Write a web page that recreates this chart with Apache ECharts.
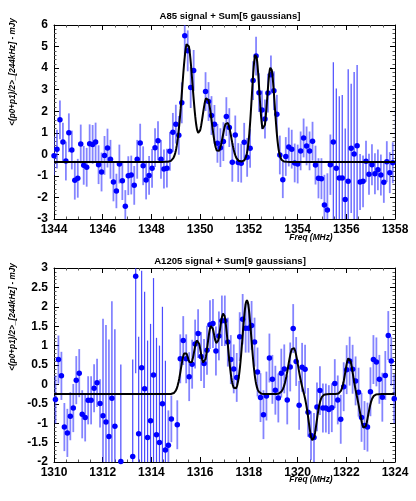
<!DOCTYPE html>
<html>
  <head>
    <meta charset="utf-8" />
    <script src="https://cdn.jsdelivr.net/npm/echarts@6/dist/echarts.min.js"></script>
    <style>
      html, body { margin: 0; padding: 0; background: #fff; }
      #main { width: 416px; height: 501px; }
    </style>
  </head>
  <body>
    <div id="main"></div>

    <script type="text/javascript">
      // ---- A85 spectrum: channels from 1344 MHz, 122 kHz apart (null = flagged channel)
      var a85Start = 1344.0;
      var a85Step = 0.122;
      var a85Flux = [
        -0.06, 0.24, 1.6, 0.57, -0.31, 1.0, 0.2, -1.2, -1.11, 0.48,
        -0.51, -0.6, 0.49, 0.46, 0.57, -0.48, -0.82, -0.05, 0.29, -0.23,
        -1.28, -1.7, -0.45, -1.22, -2.41, -0.99, -0.96, -1.44, -0.23, 0.52,
        -0.53, -1.19, -0.98, -0.65, 0.31, 0.63, -0.23, -0.68, -0.64, 0.14,
        1.02, 1.4, 0.88, 2.39, 5.5, 4.8, 3.1, 3.89, null, null,
        null, 2.91, 2.45, 1.8, 1.39, 0.51, 0.31, 0.59, 1.75, 1.24,
        -0.37, 0.9, -0.38, -0.41, 0.56, -0.14, 0.28, 3.42, 4.56, 2.86,
        2.06, 1.64, 2.84, 3.69, 2.95, 1.86, -0.03, -1.18, -0.1, 0.34,
        0.24, -0.4, -0.45, 0.16, 0.76, 0.39, 0.16, 0.61, -0.5, -1.11,
        -1.13, -2.35, -2.58, -0.48, 0.57, -0.65, -1.1, -1.1, -2.1, -1.25,
        0.28, 0.02, 0.4, -1.28, -1.25, -0.32, -0.92, -0.48, -0.9, -0.72,
        -0.96, -1.3, -0.34, -0.85, -0.39, 1.14
      ];
      var a85Err = [
        0.9, 0.9, 0.9, 0.9, 0.9, 0.9, 0.9, 0.9, 0.9, 0.9,
        0.9, 0.9, 0.9, 0.9, 0.9, 0.9, 0.9, 0.9, 0.9, 0.9,
        0.9, 0.8, 0.9, 0.9, 0.75, 0.9, 0.9, 0.9, 0.9, 0.9,
        0.9, 0.9, 0.9, 0.9, 0.9, 0.9, 0.9, 0.9, 0.9, 0.9,
        0.9, 0.9, 0.9, 0.95, 0.95, 0.95, 0.95, 0.95, 0, 0,
        0, 0.9, 0.9, 0.9, 0.9, 0.9, 0.9, 0.9, 0.9, 0.9,
        0.9, 0.9, 0.9, 0.9, 0.9, 0.9, 0.9, 0.9, 0.9, 0.9,
        0.9, 0.9, 0.9, 0.9, 0.9, 0.9, 0.9, 0.85, 0.9, 0.9,
        0.9, 0.9, 0.9, 0.9, 0.9, 0.9, 0.9, 0.9, 0.9, 0.93,
        0.95, 1.4, 1.7, 1.4, 3.7, 3.7, 3.8, 3.85, 3.3, 5.2,
        3.0, 3.8, 3.75, 1.3, 1.2, 0.95, 0.95, 0.95, 0.95, 0.95,
        0.95, 0.95, 0.95, 0.95, 0.95, 0.95
      ];
      // five fitted gaussians on a flat baseline
      var a85Base = -0.35;
      var a85Centre = [1349.48, 1350.28, 1351.1, 1352.28, 1352.9];
      var a85Amp = [5.55, 3.0, 1.85, 5.0, 4.4];
      var a85Sigma = [0.22, 0.2, 0.18, 0.16, 0.16];

      // ---- A1205 spectrum
      var a1205Start = 1310.06;
      var a1205Step = 0.122;
      var a1205Flux = [
        -0.39, 0.64, 0.22, -1.1, -1.25, -0.82, -0.61, 0.11, 0.29, -0.77,
        -0.85, -0.41, -0.41, -0.1, 0.04, -0.49, -0.81, -0.97, -1.34, -0.36,
        -1.08, null, -1.99, null, null, null, -1.86, 2.79, -1.27, 0.43,
        -0.11, -1.37, -0.94, 0.24, -1.3, -1.5, -0.5, -1.69, -1.57, -0.89,
        null, -1.04, 0.66, 1.13, 0.66, 0.2, 0.52, 1.04, 1.31, 0.72,
        0.54, 0.88, 1.54, 1.57, 0.86, 1.25, 1.64, 1.64, 1.09, 0.64,
        0.4, 0.18, 1.23, 1.68, 1.45, 1.45, 1.52, 1.09, 0.32, -0.34,
        -0.78, -0.3, 0.68, 0.13, -0.15, -0.35, 0.29, 0.4, -0.4, 0.45,
        1.44, 0.59, -0.54, 0.44, 0.39, -0.72, -1.32, -1.37, -0.58, -0.16,
        -0.61, -0.61, -0.65, -0.6, 0.02, -0.4, -0.9, -0.06, 0.38, 0.6,
        0.39, 0.09, -0.2, -0.85, -1.06, -1.1, -0.19, 0.64, 0.58, 0.13,
        -0.33, 0.23, 1.26, 0.6, -0.37
      ];
      var a1205Err = [
        0.62, 0.62, 0.62, 0.62, 0.62, 0.62, 0.62, 0.62, 0.62, 0.62,
        0.62, 0.62, 0.62, 0.62, 0.62, 0.62, 2.5, 2.5, 2.5, 2.5,
        2.5, 0, 2.5, 0, 0, 0, 2.5, 2.5, 2.5, 2.5,
        2.5, 2.5, 2.5, 2.5, 2.5, 2.5, 2.5, 2.3, 0.9, 0.6,
        0, 0.63, 0.63, 0.63, 0.63, 0.63, 0.63, 0.63, 0.63, 0.63,
        0.63, 0.63, 0.63, 0.63, 0.63, 0.63, 0.65, 0.65, 0.63, 0.63,
        0.63, 0.63, 0.63, 0.65, 0.63, 0.63, 0.63, 0.63, 0.63, 0.63,
        0.63, 0.63, 0.63, 0.63, 0.63, 0.63, 0.63, 0.63, 0.63, 0.63,
        0.63, 0.63, 0.63, 0.63, 0.63, 0.63, 0.63, 0.63, 0.63, 0.63,
        0.63, 0.63, 0.63, 0.63, 0.63, 0.63, 0.63, 0.63, 0.63, 0.63,
        0.63, 0.63, 0.63, 0.63, 0.63, 0.63, 0.63, 0.63, 0.63, 0.63,
        0.63, 0.63, 0.63, 0.63, 0.63
      ];
      // nine fitted gaussians (two of them negative)
      var a1205Base = -0.25;
      var a1205Centre = [1315.38, 1315.89, 1316.45, 1316.96, 1317.92, 1319.82, 1320.62, 1322.11, 1322.74];
      var a1205Amp = [1.07, 1.38, 1.72, 2.06, 2.42, 1.21, -1.2, 0.94, -0.89];
      var a1205Sigma = [0.17, 0.17, 0.17, 0.18, 0.18, 0.2, 0.16, 0.15, 0.16];

      var dotColor = '#0000ff';
      var font = 'Liberation Sans';

      function points(start, step, flux) {
        var out = [];
        flux.forEach(function (v, i) {
          if (v !== null) out.push([start + i * step, v]);
        });
        return out;
      }

      function bars(start, step, flux, err) {
        var out = [];
        flux.forEach(function (v, i) {
          if (v !== null) out.push([start + i * step, v - err[i], v + err[i], err[i]]);
        });
        return out;
      }

      function gaussSum(base, centre, amp, sigma, lo, hi) {
        var out = [];
        for (var f = lo; f <= hi + 1e-9; f += 0.02) {
          var y = base;
          for (var k = 0; k < centre.length; k++) {
            var d = f - centre[k];
            y += amp[k] * Math.exp(-d * d / (2 * sigma[k] * sigma[k]));
          }
          out.push([f, y]);
        }
        return out;
      }

      function plain(v) { return String(v); }

      function xAxis(grid, min, max, pos, labels) {
        return {
          type: 'value', gridIndex: grid, min: min, max: max, interval: 2, position: pos,
          axisLine: { show: true, onZero: false, lineStyle: { color: '#000', width: 1 } },
          axisTick: { show: true, inside: true, length: 5, lineStyle: { color: '#000' } },
          minorTick: { show: true, splitNumber: 4, length: 2.5, lineStyle: { color: '#555' } },
          axisLabel: { show: labels, color: '#000', fontWeight: 'bold', fontSize: 12, fontFamily: font, margin: 5, formatter: plain },
          splitLine: { show: false }
        };
      }

      function yAxis(grid, min, max, step, pos, labels) {
        return {
          type: 'value', gridIndex: grid, min: min, max: max, interval: step, position: pos,
          axisLine: { show: true, onZero: false, lineStyle: { color: '#000', width: 1 } },
          axisTick: { show: true, inside: true, length: 5, lineStyle: { color: '#000' } },
          minorTick: { show: true, splitNumber: 5, length: 2.5, lineStyle: { color: '#555' } },
          axisLabel: { show: labels, color: '#000', fontWeight: 'bold', fontSize: 12, fontFamily: font, margin: 6, formatter: plain },
          splitLine: { show: false }
        };
      }

      function errSeries(ax, data) {
        return {
          type: 'custom', xAxisIndex: ax, yAxisIndex: ax, clip: true, silent: true,
          encode: { x: 0, y: [1, 2] },
          renderItem: function (params, api) {
            var lo = api.coord([api.value(0), api.value(1)]);
            var hi = api.coord([api.value(0), api.value(2)]);
            var wide = api.value(3) >= 2;   // noisy channels are drawn thinner and darker
            return {
              type: 'line',
              shape: { x1: lo[0], y1: lo[1], x2: hi[0], y2: hi[1] },
              style: {
                stroke: wide ? 'rgba(30,30,255,0.8)' : 'rgba(50,50,255,0.6)',
                lineWidth: wide ? 1.2 : 1.8
              }
            };
          },
          data: data
        };
      }

      var myChart = echarts.init(document.getElementById('main'), null, { renderer: 'canvas' });

      var titleStyle = { color: '#000', fontWeight: 'bold', fontSize: 9.6, fontFamily: font };
      var nameStyle = { fill: '#000', fontWeight: 'bold', fontStyle: 'italic', fontFamily: font };

      var option = {
        animation: false,
        backgroundColor: '#fff',
        title: [
          { text: 'A85 signal + Sum[5 gaussians]', left: 225, top: 6, textAlign: 'center', textStyle: titleStyle },
          { text: 'A1205 signal + Sum[9 gaussians]', left: 225, top: 251, textAlign: 'center', textStyle: titleStyle }
        ],
        grid: [
          { left: 54, top: 25, width: 341, height: 194 },
          { left: 54, top: 268, width: 341, height: 194 }
        ],
        xAxis: [
          xAxis(0, 1344, 1358, 'bottom', true),
          xAxis(1, 1310, 1324, 'bottom', true),
          xAxis(0, 1344, 1358, 'top', false),
          xAxis(1, 1310, 1324, 'top', false)
        ],
        yAxis: [
          yAxis(0, -3, 6, 1, 'left', true),
          yAxis(1, -2, 3, 0.5, 'left', true),
          yAxis(0, -3, 6, 1, 'right', false),
          yAxis(1, -2, 3, 0.5, 'right', false)
        ],
        graphic: [
          { type: 'text', x: 13, y: 72, rotation: Math.PI / 2,
            style: Object.assign({ text: '<(p0+p1)/2>_[244kHz] - mJy', fontSize: 8.2, align: 'center', verticalAlign: 'middle' }, nameStyle) },
          { type: 'text', x: 13, y: 317, rotation: Math.PI / 2,
            style: Object.assign({ text: '<(p0+p1)/2>_[244kHz] - mJy', fontSize: 8.2, align: 'center', verticalAlign: 'middle' }, nameStyle) },
          { type: 'text', x: 311, y: 238,
            style: Object.assign({ text: 'Freq (MHz)', fontSize: 8.4, align: 'center', verticalAlign: 'middle' }, nameStyle) },
          { type: 'text', x: 311, y: 480,
            style: Object.assign({ text: 'Freq (MHz)', fontSize: 8.4, align: 'center', verticalAlign: 'middle' }, nameStyle) }
        ],
        series: [
          errSeries(0, bars(a85Start, a85Step, a85Flux, a85Err)),
          errSeries(1, bars(a1205Start, a1205Step, a1205Flux, a1205Err)),
          {
            type: 'line', xAxisIndex: 0, yAxisIndex: 0, showSymbol: false, smooth: false, clip: true,
            lineStyle: { color: '#000', width: 2 },
            data: gaussSum(a85Base, a85Centre, a85Amp, a85Sigma, 1344, 1358)
          },
          {
            type: 'line', xAxisIndex: 1, yAxisIndex: 1, showSymbol: false, smooth: false, clip: true,
            lineStyle: { color: '#000', width: 2 },
            data: gaussSum(a1205Base, a1205Centre, a1205Amp, a1205Sigma, 1310, 1324)
          },
          {
            type: 'scatter', xAxisIndex: 0, yAxisIndex: 0, symbolSize: 5.5, clip: true,
            itemStyle: { color: dotColor, opacity: 1 },
            data: points(a85Start, a85Step, a85Flux)
          },
          {
            type: 'scatter', xAxisIndex: 1, yAxisIndex: 1, symbolSize: 5.5, clip: true,
            itemStyle: { color: dotColor, opacity: 1 },
            data: points(a1205Start, a1205Step, a1205Flux)
          }
        ]
      };

      myChart.setOption(option);
    </script>
  </body>
</html>
